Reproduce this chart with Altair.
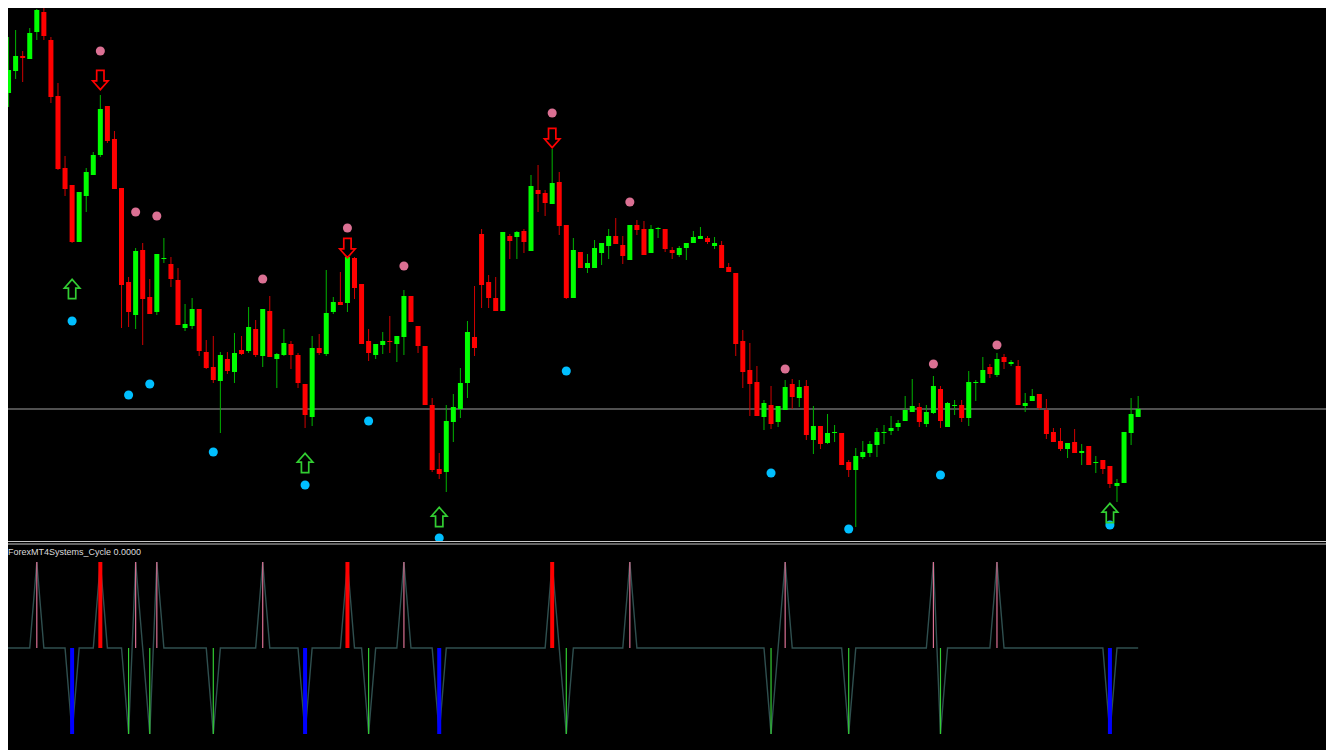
import altair as alt
import pandas as pd

# Prices are stored in points above BASE (1 point = 0.0001)
BASE = 1.1000
POINT = 0.0001

open_pts = [482, 507, 529, 544, 541, 568, 588, 560, 504, 432,
            415, 358, 404, 425, 445, 494, 461, 412, 318, 285,
            350, 303, 288, 341, 336, 320, 272, 274, 291, 248,
            233, 219, 241, 228, 250, 249, 271, 244, 289, 241,
            245, 256, 245, 216, 183, 252, 246, 288, 298, 297,
            342, 316, 259, 245, 255, 259, 256, 263, 304, 274,
            254, 195, 131, 128, 178, 191, 217, 263, 366, 318,
            302, 289, 364, 363, 369, 349, 410, 407, 396, 418,
            375, 302, 348, 332, 332, 347, 354, 364, 355, 340,
            375, 371, 347, 371, 371, 350, 345, 352, 357, 361,
            362, 354, 355, 333, 327, 259, 230, 218, 183, 195,
            178, 190, 216, 202, 214, 160, 174, 157, 167, 167,
            138, 130, 143, 147, 155, 167, 169, 173, 179, 188,
            193, 176, 187, 211, 173, 194, 195, 182, 217, 217,
            233, 225, 243, 236, 234, 194, 199, 206, 190, 168,
            159, 151, 158, 147, 154, 137, 140, 134, 114, 117,
            167, 183]

high_pts = [508, 563, 570, 549, 572, 591, 592, 563, 517, 444,
            415, 408, 432, 448, 505, 494, 469, 412, 323, 352,
            357, 321, 346, 362, 343, 332, 296, 302, 291, 260,
            264, 248, 248, 267, 264, 293, 280, 291, 304, 247,
            271, 259, 247, 216, 264, 266, 330, 303, 328, 343,
            343, 316, 271, 256, 268, 284, 264, 310, 304, 274,
            254, 202, 147, 195, 206, 232, 279, 314, 371, 325,
            323, 368, 366, 369, 371, 425, 435, 410, 451, 428,
            375, 362, 348, 346, 360, 357, 371, 382, 364, 375,
            380, 379, 375, 373, 371, 353, 354, 357, 369, 373,
            364, 363, 359, 337, 327, 270, 257, 234, 200, 214,
            194, 220, 221, 220, 220, 194, 174, 186, 175, 167,
            140, 152, 159, 159, 172, 175, 184, 180, 204, 221,
            197, 195, 224, 214, 198, 200, 200, 229, 220, 243,
            236, 247, 246, 240, 240, 207, 211, 206, 201, 172,
            172, 157, 171, 156, 154, 144, 140, 134, 121, 168,
            202, 204]

low_pts = [471, 493, 521, 518, 541, 560, 560, 497, 430, 404,
           357, 358, 388, 425, 443, 457, 411, 272, 273, 271,
           255, 286, 285, 337, 313, 275, 269, 271, 244, 231,
           217, 167, 226, 217, 245, 247, 243, 233, 243, 212,
           244, 231, 212, 172, 174, 245, 244, 286, 295, 288,
           301, 256, 239, 241, 246, 247, 238, 245, 278, 247,
           195, 128, 121, 108, 158, 182, 202, 244, 292, 292,
           289, 289, 341, 341, 347, 349, 388, 384, 396, 365,
           301, 302, 332, 327, 332, 335, 341, 356, 336, 340,
           365, 345, 347, 362, 348, 341, 343, 340, 357, 361,
           356, 351, 332, 328, 244, 212, 184, 184, 170, 171,
           173, 190, 191, 193, 160, 146, 151, 156, 158, 135,
           123, 73, 141, 143, 143, 156, 165, 169, 179, 188,
           173, 173, 186, 172, 173, 185, 178, 174, 199, 217,
           222, 223, 231, 234, 195, 188, 199, 190, 161, 158,
           149, 142, 147, 135, 135, 127, 126, 112, 98, 117,
           155, 183]

close_pts = [508, 530, 544, 542, 567, 590, 564, 503, 431, 411,
             358, 408, 428, 445, 491, 459, 411, 315, 288, 349,
             301, 286, 346, 342, 321, 275, 276, 291, 249, 232,
             220, 245, 229, 247, 246, 273, 245, 291, 243, 246,
             257, 245, 217, 185, 252, 247, 287, 298, 295, 343,
             312, 256, 247, 256, 259, 258, 264, 304, 278, 254,
             195, 130, 126, 179, 193, 217, 268, 252, 315, 302,
             289, 368, 359, 368, 358, 414, 406, 397, 417, 374,
             302, 350, 332, 337, 352, 357, 364, 356, 344, 375,
             370, 345, 371, 372, 351, 347, 352, 357, 363, 364,
             358, 357, 332, 328, 256, 228, 216, 184, 197, 176,
             194, 213, 203, 213, 165, 174, 156, 167, 168, 135,
             130, 144, 148, 156, 168, 168, 172, 177, 190, 194,
             178, 188, 214, 179, 197, 195, 182, 218, 218, 230,
             226, 241, 238, 238, 195, 197, 204, 192, 166, 158,
             151, 157, 147, 149, 135, 138, 131, 116, 117, 168,
             186, 191]

# Signal markers (bar index, price in points)
top_dot_bars = [14, 19, 22, 37, 49, 57, 78, 89, 111, 132, 141]
top_dot_pts = [549, 388, 384, 321, 372, 334, 487, 398, 231, 236, 255]
bottom_dot_bars = [10, 18, 21, 30, 43, 52, 62, 80, 109, 120, 133, 157]
bottom_dot_pts = [279, 205, 216, 148, 115, 179, 62, 229, 127, 71, 125, 75]
sell_arrow_bars = [14, 49, 78]
sell_arrow_pts = [520, 352, 462]
buy_arrow_bars = [10, 43, 62, 157]
buy_arrow_pts = [311, 137, 83, 87]

# Horizontal price level
level_pts = [191]

# Cycle indicator: peaks (+1) and troughs (-1)
cycle_peaks = [5, 14, 19, 22, 37, 49, 57, 78, 89, 111, 132, 141]
cycle_strong_peaks = [14, 49, 78]
cycle_troughs = [10, 18, 21, 30, 43, 52, 62, 80, 109, 120, 133, 157]
cycle_strong_troughs = [10, 43, 62, 157]

indicator_label = "ForexMT4Systems_Cycle 0.0000"

# ---------------------------------------------------------------
W, H = 1318, 742
n = min(len(open_pts), len(high_pts), len(low_pts), len(close_pts))


def px(v):
    return round(BASE + v * POINT, 5)


candles = pd.DataFrame({
    "k": list(range(n)),
    "open": [px(v) for v in open_pts[:n]],
    "high": [px(v) for v in high_pts[:n]],
    "low": [px(v) for v in low_pts[:n]],
    "close": [px(v) for v in close_pts[:n]],
})
bull = candles["close"] >= candles["open"]
candles["body_col"] = ["#00ff00" if b else "#ff0000" for b in bull]
candles["wick_col"] = ["#00b400" if b else "#d00000" for b in bull]

dots = pd.DataFrame({
    "k": top_dot_bars + bottom_dot_bars,
    "price": [px(v) for v in top_dot_pts + bottom_dot_pts],
    "col": ["#db7093"] * len(top_dot_bars) + ["#00bfff"] * len(bottom_dot_bars),
})
sells = pd.DataFrame({"k": sell_arrow_bars, "price": [px(v) for v in sell_arrow_pts]})
buys = pd.DataFrame({"k": buy_arrow_bars, "price": [px(v) for v in buy_arrow_pts]})
level = pd.DataFrame({"price": [px(v) for v in level_pts]})

cycle_vals = []
for i in range(n):
    if i in cycle_peaks:
        cycle_vals.append(1)
    elif i in cycle_troughs:
        cycle_vals.append(-1)
    else:
        cycle_vals.append(0)
cyc = pd.DataFrame({"k": list(range(n)), "cycle": cycle_vals})

hist_rows = []
for b in cycle_peaks:
    strong = b in cycle_strong_peaks
    hist_rows.append({"k": b, "zero": 0, "cycle": 1,
                      "col": "#ff0000" if strong else "#db7093",
                      "w": 4 if strong else 1.2})
for b in cycle_troughs:
    strong = b in cycle_strong_troughs
    hist_rows.append({"k": b, "zero": 0, "cycle": -1,
                      "col": "#0000ff" if strong else "#32cd32",
                      "w": 4 if strong else 1.2})
hist = pd.DataFrame(hist_rows)

one = pd.DataFrame({"a": [0]})

# Scales: bar spacing about 7.06 px; plot starts 8 px into the page
XS = alt.Scale(domain=[0.92068, 187.606], nice=False, zero=False, padding=0)
YP = alt.Scale(domain=[1.0850, 1.1592], nice=False, zero=False, padding=0)
YC = alt.Scale(domain=[-1, 1], range=[726, 554], nice=False, zero=False, padding=0)

xk = alt.X("k:Q", scale=XS, axis=None)

level_rule = alt.Chart(level).mark_rule(color="#a0a0a0", strokeWidth=1).encode(
    y=alt.Y("price:Q", scale=YP, axis=None)
)

wicks = alt.Chart(candles).mark_rule(strokeWidth=1).encode(
    x=xk,
    y=alt.Y("low:Q", scale=YP, axis=None),
    y2="high:Q",
    color=alt.Color("wick_col:N", scale=None),
)

bodies = alt.Chart(candles).mark_bar(size=5, orient="vertical").encode(
    x=xk,
    y=alt.Y("open:Q", scale=YP, axis=None),
    y2="close:Q",
    color=alt.Color("body_col:N", scale=None),
)

dot_layer = alt.Chart(dots).mark_circle(size=82, opacity=1).encode(
    x=xk,
    y=alt.Y("price:Q", scale=YP, axis=None),
    color=alt.Color("col:N", scale=None),
)

down_path = "M-0.38,-1L0.38,-1L0.38,0.1L0.8,0.1L0,1L-0.8,0.1L-0.38,0.1Z"
up_path = "M-0.38,1L0.38,1L0.38,-0.1L0.8,-0.1L0,-1L-0.8,-0.1L-0.38,-0.1Z"

sell_layer = alt.Chart(sells).mark_point(
    shape=down_path, size=372, filled=False, strokeWidth=1.7, color="#ff0000", opacity=1
).encode(x=xk, y=alt.Y("price:Q", scale=YP, axis=None))

buy_layer = alt.Chart(buys).mark_point(
    shape=up_path, size=372, filled=False, strokeWidth=1.7, color="#32cd32", opacity=1
).encode(x=xk, y=alt.Y("price:Q", scale=YP, axis=None))

main = alt.layer(level_rule, wicks, bodies, dot_layer, sell_layer, buy_layer)

cover = alt.Chart(one).mark_rect(color="#000000").encode(
    x=alt.value(0), x2=alt.value(W), y=alt.value(533), y2=alt.value(H)
)
sep1 = alt.Chart(one).mark_rule(color="#c8c8c8", strokeWidth=1).encode(
    x=alt.value(0), x2=alt.value(W), y=alt.value(533.5)
)
sep2 = alt.Chart(one).mark_rule(color="#c8c8c8", strokeWidth=1).encode(
    x=alt.value(0), x2=alt.value(W), y=alt.value(536)
)
label = alt.Chart(one).mark_text(
    align="left", baseline="middle", fontSize=9, font="Liberation Sans", color="#dcdcdc"
).encode(x=alt.value(0), y=alt.value(544), text=alt.value(indicator_label))

cyc_line = alt.Chart(cyc).mark_line(color="#2f4f4f", strokeWidth=1.4).encode(
    x=xk, y=alt.Y("cycle:Q", scale=YC, axis=None)
)
cyc_bars = alt.Chart(hist).mark_rule().encode(
    x=xk,
    y=alt.Y("zero:Q", scale=YC, axis=None),
    y2="cycle:Q",
    color=alt.Color("col:N", scale=None),
    strokeWidth=alt.StrokeWidth("w:Q", scale=None),
)
lower = alt.layer(cyc_line, cyc_bars)

chart = alt.layer(main, cover, sep1, sep2, label, lower).resolve_scale(
    y="independent"
).properties(
    width=W, height=H, background="#000000", padding=0,
    autosize=alt.AutoSizeParams(type="none"),
).configure_view(strokeWidth=0)

chart.save("out.html", embed_options={"renderer": "svg", "actions": False})
